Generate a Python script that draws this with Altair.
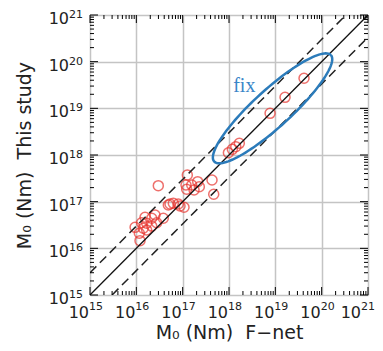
import altair as alt
import numpy as np
import pandas as pd

# --- data (seismic moment, Nm) ---
fnet = [9.4e15, 1.3e16, 1.54e16, 2.15e16, 1.67e16, 2.15e16, 1.16e16, 1.2e16, 1.67e16, 1.41e16,
        2.53e16, 2.75e16, 3.82e16, 4.9e16, 5.33e16, 6.28e16, 8.05e16, 8.77e16, 1.07e17, 2.98e16,
        1.26e17, 1.18e17, 1.22e17, 1.57e17, 1.76e17, 2.11e17, 2.29e17, 4.3e17, 4.68e17,
        9.7e17, 1.18e18, 1.40e18, 1.67e18, 7.7e18, 1.62e19, 4.16e19]
this_study = [2.82e16, 3.54e16, 4.62e16, 4.4e16, 3.44e16, 3.0e16, 2.1e16, 1.46e16, 2.47e16, 2.69e16,
              5.18e16, 3.54e16, 4.4e16, 8.47e16, 8.9e16, 9.2e16, 8.9e16, 8.07e16, 7.57e16, 2.2e17,
              3.72e17, 2.28e17, 1.84e17, 2.28e17, 1.78e17, 2.68e17, 2.09e17, 2.91e17, 1.44e17,
              1.12e18, 1.32e18, 1.51e18, 1.78e18, 7.8e18, 1.72e19, 4.4e19]

tick_exps = [15, 16, 17, 18, 19, 20, 21]
domain = [1e15, 1e21]
offset_factor = 3.0

# ellipse annotation ("fix"), in log10 units
ell_center = (18.94, 19.0)
ell_major = (1.26, 1.14)
ell_minor = 0.40
fix_pos = (1.23e18, 2.24e19)

W, H = 278, 280
FONT = "DejaVu Sans"

xs = alt.Scale(type="log", domain=domain, nice=False)
ys = alt.Scale(type="log", domain=domain, nice=False)

pts = pd.DataFrame({"fnet": fnet, "study": this_study})
decades = [10.0 ** e for e in tick_exps]

x_axis = alt.Axis(
    values=decades, grid=True, labels=False, ticks=False, domain=False,
    gridColor="#c4c4c4", gridWidth=1.5, title="M₀ (Nm)\u00a0 F−net",
    titleFont=FONT, titleFontSize=19, titleFontWeight="normal", titleColor="#222",
    titleBaseline="alphabetic", titleY=43)
y_axis = alt.Axis(
    values=decades, grid=True, labels=False, ticks=False, domain=False,
    gridColor="#c4c4c4", gridWidth=1.5, title="M₀ (Nm)\u00a0 This study",
    titleFont=FONT, titleFontSize=19, titleFontWeight="normal", titleColor="#222",
    titleBaseline="alphabetic", titleX=-60)


def X(f):
    return alt.X(f, scale=xs, axis=x_axis)


def Y(f):
    return alt.Y(f, scale=ys, axis=y_axis)


# lines (1:1 and factor offsets)
lo, hi = domain
lines = pd.DataFrame({
    "x": [lo, hi, lo, hi / offset_factor, lo * offset_factor, hi],
    "y": [lo, hi, lo * offset_factor, hi, lo, hi / offset_factor],
    "s": ["one", "one", "up", "up", "dn", "dn"],
})

# ellipse outline
t = np.linspace(0, 2 * np.pi, 121)
a = np.hypot(*ell_major)
ux, uy = ell_major[0] / a, ell_major[1] / a
vx, vy = -uy, ux
ex = ell_center[0] + a * ux * np.cos(t) + ell_minor * vx * np.sin(t)
ey = ell_center[1] + a * uy * np.cos(t) + ell_minor * vy * np.sin(t)
ell = pd.DataFrame({"x": 10 ** ex, "y": 10 ** ey, "o": np.arange(len(t))})

base_pts = alt.Chart(pts).mark_point(
    shape="circle", filled=False, color="#e8352f", size=100, strokeWidth=1.5
).encode(x=X("fnet:Q"), y=Y("study:Q"))

solid = alt.Chart(lines[lines.s == "one"]).mark_line(color="#111", strokeWidth=1.3, clip=True).encode(
    x=X("x:Q"), y=Y("y:Q"))
dashed = alt.Chart(lines[lines.s != "one"]).mark_line(
    color="#222", strokeWidth=1.5, strokeDash=[9, 5], clip=True).encode(
    x=X("x:Q"), y=Y("y:Q"), detail="s:N")

ellipse = alt.Chart(ell).mark_line(color="#2b7bba", strokeWidth=2.5, clip=True).encode(
    x=X("x:Q"), y=Y("y:Q"), order="o:Q")

fix = alt.Chart(pd.DataFrame({"x": [fix_pos[0]], "y": [fix_pos[1]], "t": ["fix"]})).mark_text(
    font="Liberation Serif", fontSize=20, color="#3a86c8", align="left", baseline="alphabetic"
).encode(x=X("x:Q"), y=Y("y:Q"), text="t:N")

# inward ticks on all sides
minor = pd.DataFrame({"v": [m * 10.0 ** n for n in tick_exps[:-1] for m in range(2, 10)]})
major = pd.DataFrame({"v": decades})


def tick_layers(df, L):
    out = []
    r = dict(color="black", strokeWidth=1)
    out.append(alt.Chart(df).mark_rule(**r).encode(x=X("v:Q"), y=alt.value(H), y2=alt.value(H - L)))
    out.append(alt.Chart(df).mark_rule(**r).encode(x=X("v:Q"), y=alt.value(0), y2=alt.value(L)))
    out.append(alt.Chart(df).mark_rule(**r).encode(y=Y("v:Q"), x=alt.value(0), x2=alt.value(L)))
    out.append(alt.Chart(df).mark_rule(**r).encode(y=Y("v:Q"), x=alt.value(W), x2=alt.value(W - L)))
    return out


ticks = tick_layers(minor, 4) + tick_layers(major, 8)

# tick labels 10^n
lab = pd.DataFrame({"v": decades, "ten": ["10"] * len(decades), "e": [str(e) for e in tick_exps]})
lab_x_main = lab.iloc[:-1]
lab_x_last = lab.iloc[-1:]
tc = "#222"


def xlabels(df, dx):
    return [
        alt.Chart(df).mark_text(font=FONT, fontSize=16, color=tc, align="right", baseline="alphabetic", dx=dx).encode(
            x=X("v:Q"), y=alt.value(H + 23), text="ten:N"),
        alt.Chart(df).mark_text(font=FONT, fontSize=11, color=tc, align="left", baseline="alphabetic", dx=dx).encode(
            x=X("v:Q"), y=alt.value(H + 15), text="e:N"),
    ]


xl = xlabels(lab_x_main, -1) + xlabels(lab_x_last, -7)
yl10 = alt.Chart(lab).mark_text(font=FONT, fontSize=16, color=tc, align="right", baseline="alphabetic", dy=9).encode(
    y=Y("v:Q"), x=alt.value(-21), text="ten:N")
yle = alt.Chart(lab).mark_text(font=FONT, fontSize=11, color=tc, align="left", baseline="alphabetic", dy=3).encode(
    y=Y("v:Q"), x=alt.value(-21), text="e:N")

chart = alt.layer(base_pts, solid, dashed, ellipse, fix, *ticks, *xl, yl10, yle).properties(
    width=W, height=H,
    autosize=alt.AutoSizeParams(type="none"),
    padding={"left": 82, "top": 7, "right": 7, "bottom": 48},
).configure_view(stroke="black", strokeWidth=2.5).configure(background="white")

chart.save("out.html", embed_options={"renderer": "svg", "actions": False})
